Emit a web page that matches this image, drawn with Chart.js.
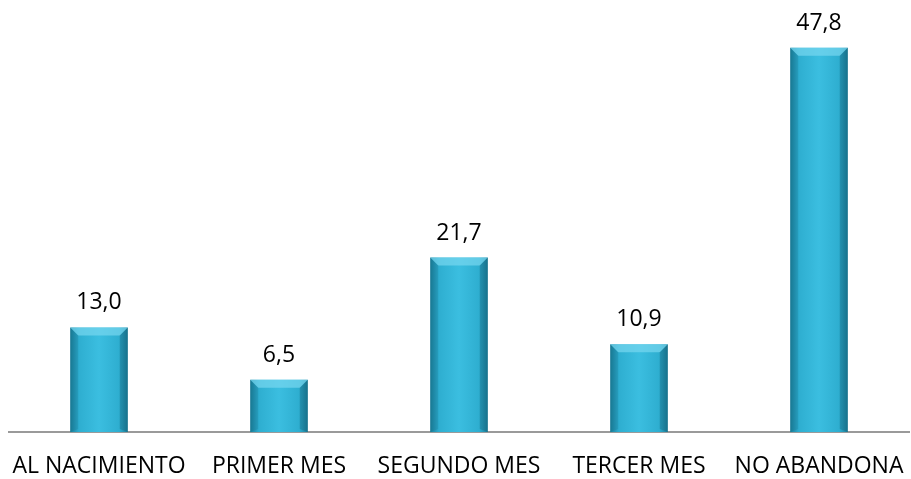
<!DOCTYPE html>
<html>
<head>
<meta charset="utf-8">
<script src="https://cdn.jsdelivr.net/npm/chart.js@4.4.0/dist/chart.umd.min.js"></script>
<style>
  html, body { margin: 0; padding: 0; background: #fff; }
  #wrap { width: 911px; height: 479px; }
</style>
</head>
<body>
<div id="wrap"><canvas id="chart"></canvas></div>
<script>
const categories = ['AL NACIMIENTO', 'PRIMER MES', 'SEGUNDO MES', 'TERCER MES', 'NO ABANDONA'];
const values = [13.0, 6.5, 21.7, 10.9, 47.8];

const FONT = '"Open Sans", sans-serif';
const BAR_PCT = 0.32;

const fmt = (v) => v.toFixed(1).replace('.', ',');

// horizontal gradient across each bar, darker at the edges
function barFill(ctx) {
    const chart = ctx.chart;
    const xs = chart.scales && chart.scales.x;
    if (!chart.chartArea || !xs || ctx.dataIndex === undefined) return '#33b4d6';
    const cx = xs.getPixelForValue(ctx.dataIndex);
    const half = (xs.width / categories.length) * BAR_PCT / 2;
    if (!isFinite(cx) || !isFinite(half)) return '#33b4d6';
    const g = chart.ctx.createLinearGradient(cx - half, 0, cx + half, 0);
    g.addColorStop(0, '#1b7f9b');
    g.addColorStop(0.15, '#2eaed0');
    g.addColorStop(0.5, '#3bbee0');
    g.addColorStop(0.85, '#2eaed0');
    g.addColorStop(1, '#1b7f9b');
    return g;
}

const bevelAndLabels = {
    id: 'bevelAndLabels',
    afterDatasetsDraw(chart) {
        const c = chart.ctx;
        const meta = chart.getDatasetMeta(0);
        meta.data.forEach((bar, i) => {
            const half = bar.width / 2;
            const l = bar.x - half, r = bar.x + half, t = bar.y, b = bar.base;
            const d = 8;
            c.save();
            // top bevel
            c.beginPath();
            c.moveTo(l, t); c.lineTo(r, t); c.lineTo(r - d, t + d); c.lineTo(l + d, t + d); c.closePath();
            c.fillStyle = 'rgba(120,215,240,0.7)';
            c.fill();
            // side bevels
            c.beginPath();
            c.moveTo(l, t); c.lineTo(l + d, t + d); c.lineTo(l + d, b - 3); c.lineTo(l, b); c.closePath();
            c.fillStyle = 'rgba(10,80,100,0.15)';
            c.fill();
            c.beginPath();
            c.moveTo(r, t); c.lineTo(r - d, t + d); c.lineTo(r - d, b - 3); c.lineTo(r, b); c.closePath();
            c.fillStyle = 'rgba(10,70,90,0.25)';
            c.fill();
            // value label
            c.fillStyle = '#000';
            c.font = '23px ' + FONT;
            c.textAlign = 'center';
            c.textBaseline = 'alphabetic';
            c.fillText(fmt(values[i]), bar.x, t - 18);
            c.restore();
        });
    }
};

new Chart(document.getElementById('chart'), {
    type: 'bar',
    data: {
        labels: categories,
        datasets: [{
            data: values,
            backgroundColor: barFill,
            borderWidth: 0,
            categoryPercentage: 1,
            barPercentage: BAR_PCT,
        }]
    },
    options: {
        responsive: true,
        maintainAspectRatio: false,
        animation: false,
        layout: { padding: { left: 9, right: 2, top: 30, bottom: 0 } },
        plugins: {
            legend: { display: false },
            tooltip: { enabled: false },
        },
        scales: {
            x: {
                grid: { display: false, drawTicks: false },
                border: { display: true, color: '#9a9a9a', width: 2 },
                ticks: {
                    color: '#000',
                    font: { family: FONT, size: 23 },
                    padding: 21,
                    maxRotation: 0,
                    autoSkip: false,
                },
                afterFit(scale) {
                    scale.paddingLeft = 0;
                    scale.paddingRight = 0;
                    scale.height = 47;
                },
            },
            y: {
                display: false,
                min: 0,
                max: 50,
            }
        }
    },
    plugins: [bevelAndLabels]
});
</script>
</body>
</html>
